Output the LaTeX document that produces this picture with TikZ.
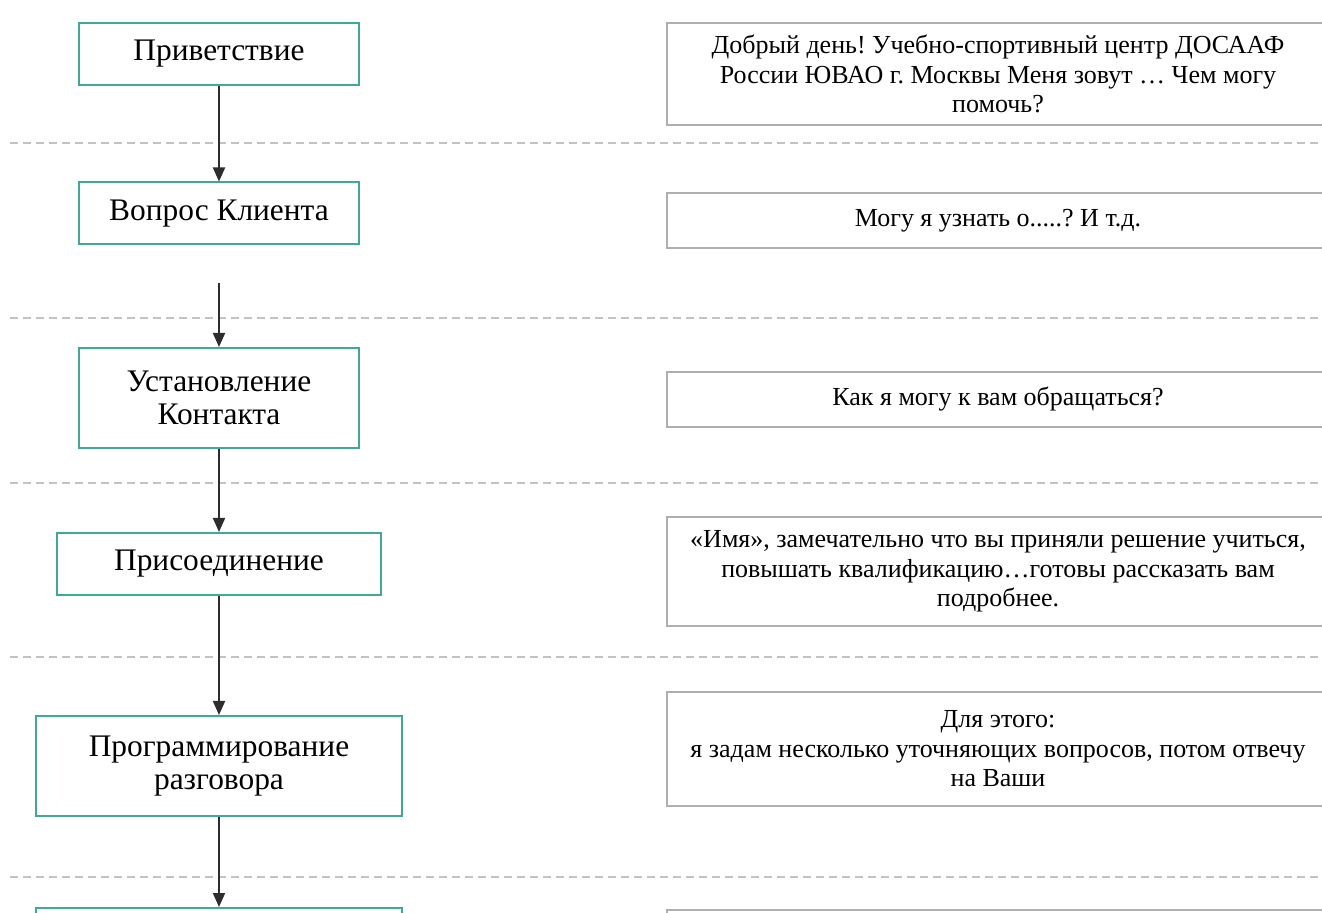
\documentclass[tikz,border=0pt]{standalone}
\usepackage{fontspec}
\setmainfont{Liberation Serif}
\frenchspacing
\usetikzlibrary{arrows.meta}
\definecolor{stageline}{RGB}{64,168,150}
\definecolor{replyline}{RGB}{175,175,175}
\definecolor{sepline}{RGB}{195,195,195}
\definecolor{arrowline}{RGB}{45,45,45}
\tikzset{
	stage/.style={draw=stageline, line width=1pt, fill=white, align=center, inner sep=0pt, font=\fontsize{15.7}{16.5}\selectfont},
	reply/.style={draw=replyline, line width=1pt, fill=white, align=center, inner sep=0pt, minimum width=331pt, font=\fontsize{13}{14.75}\selectfont},
	sep/.style={sepline, line width=0.8pt, dash pattern=on 4pt off 2.5pt},
	link/.style={arrowline, line width=1pt, -{Triangle[length=7pt,width=6pt]}}
}

\begin{document}
\begin{tikzpicture}[x=0.5pt,y=-0.5pt]
				\useasboundingbox (0,0) rectangle (1322,913);
				\foreach \y in {143,318,483,657,877}
					\draw [sep] (10,\y)--(1322,\y);

				\node [stage, minimum width=140pt, minimum height=31pt] (greet) at (219,54) {Приветствие};
				\node [stage, minimum width=140pt, minimum height=31pt] (ask) at (219,213.5) {Вопрос Клиента};
				\coordinate (askgap) at (219,283);
				\node [stage, minimum width=140pt, minimum height=50pt] (contact) at (219,398) {Установление\\Контакта};
				\node [stage, minimum width=162pt, minimum height=31pt] (join) at (219,564) {Присоединение};
				\node [stage, minimum width=183pt, minimum height=50pt] (plan) at (219,766) {Программирование\\разговора};
				\node [stage, minimum width=183pt, minimum height=50pt, anchor=north] (next) at (219,907) {};

				\node [reply, minimum height=51pt] (hello) at (998,74) {Добрый день! Учебно-спортивный центр ДОСААФ\\России ЮВАО г. Москвы Меня зовут … Чем могу\\помочь?};
				\node [reply, minimum height=27.5pt] (query) at (998,220.5) {Могу я узнать о.....? И т.д.};
				\node [reply, minimum height=27.5pt] (name) at (998,399.5) {Как я могу к вам обращаться?};
				\node [reply, minimum height=54.5pt] (praise) at (998,571.5) {«Имя», замечательно что вы приняли решение учиться,\\повышать квалификацию…готовы рассказать вам\\подробнее.};
				\node [reply, minimum height=57pt] (agenda) at (998,749) {Для этого:\\я задам несколько уточняющих вопросов, потом отвечу\\на Ваши};
				\node [reply, minimum height=57pt, anchor=north] (more) at (998,909) {};

				\draw [link] (greet)--(ask);
				\draw [link] (askgap)--(contact);
				\draw [link] (contact)--(join);
				\draw [link] (join)--(plan);
				\draw [link] (plan)--(next);

			\end{tikzpicture}
\end{document}
